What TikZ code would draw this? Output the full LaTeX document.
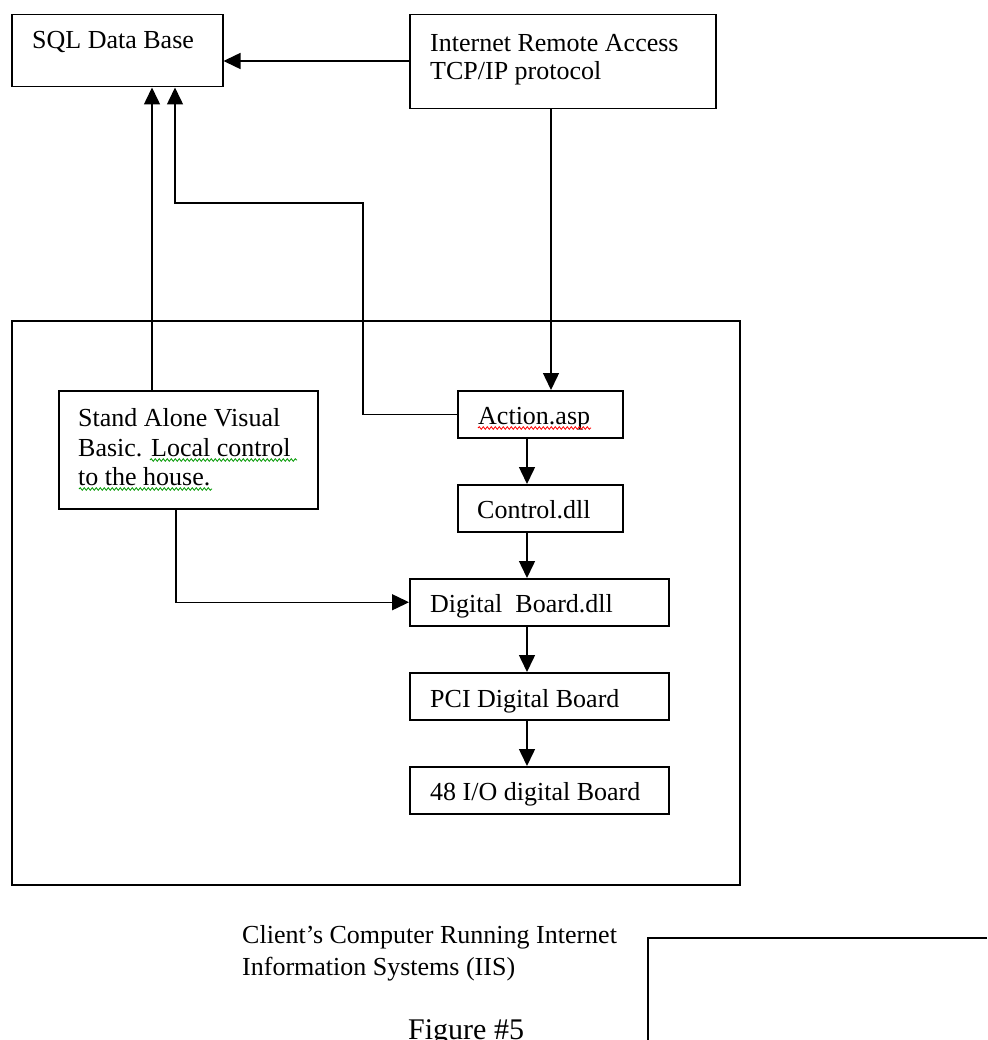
\documentclass[tikz,border=0pt]{standalone}
\usepackage{fontspec}
\setmainfont{Liberation Serif}
\usetikzlibrary{arrows.meta,decorations.pathmorphing}
\begin{document}
\begin{tikzpicture}[x=1pt,y=-1pt,
  box/.style={draw, line width=1.5pt, rectangle, inner sep=0pt, anchor=north west},
  txt/.style={inner sep=0pt, anchor=base west, font=\fontsize{26}{30}\selectfont},
  arr/.style={line width=1.5pt, -{Triangle[length=17pt,width=16pt]}},
  conn/.style={line width=1.5pt},
  wavy/.style={line width=0.8pt, decorate, decoration={snake, amplitude=1.3pt, segment length=4pt}}]
\clip (0,0) rectangle (987,1040);
\fill[white] (0,0) rectangle (987,1040);
% boxes
\node[box, minimum width=211pt, minimum height=72pt] (sql) at (11,14) {};
\node[box, minimum width=306pt, minimum height=94pt] (net) at (409,14) {};
\node[box, minimum width=728pt, minimum height=564pt] (iis) at (11,320) {};
\node[box, minimum width=259pt, minimum height=118pt] (stand) at (58,390) {};
\node[box, minimum width=165pt, minimum height=47pt] (act) at (457,390) {};
\node[box, minimum width=165pt, minimum height=47pt] (ctl) at (457,484) {};
\node[box, minimum width=259pt, minimum height=47pt] (dig) at (409,578) {};
\node[box, minimum width=259pt, minimum height=47pt] (pci) at (409,672) {};
\node[box, minimum width=259pt, minimum height=47pt] (io) at (409,766) {};
% texts
\node[txt] (sqlt) at (32,49) {SQL Data Base};
\node[txt] (nett1) at (430,52) {Internet Remote Access};
\node[txt] (nett2) at (430,80) {TCP/IP protocol};
\node[txt] (st1) at (78,426) {Stand Alone Visual};
\node[txt] (st2) at (78,456) {Basic. Local control};
\node[txt] (st3) at (78,485) {to the house.};
\node[txt] (actt) at (478,424) {Action.asp};
\node[txt] (ctlt) at (477,518) {Control.dll};
\node[txt] (digt) at (430,612) {Digital\ \ Board.dll};
\node[txt] (pcit) at (430,707) {PCI Digital Board};
\node[txt] (iot) at (430,800) {48 I/O digital Board};
\node[txt] (cl1) at (242,943) {Client’s Computer Running Internet};
\node[txt] (cl2) at (242,975) {Information Systems (IIS)};
\node[txt, font=\fontsize{30}{34}\selectfont] (fig) at (408,1039) {Figure \#5};
% spell-check underlines
\draw[wavy, red] (478,428) -- (591,428);
\draw[wavy, green!60!black] (150,460) -- (297,460);
\draw[wavy, green!60!black] (79,489) -- (212,489);
% partial box at bottom right
\coordinate (pb1) at (987,938);
\coordinate (pb2) at (648,938);
\coordinate (pb3) at (648,1040);
\draw[conn] (pb1) -- (pb2) -- (pb3);
% helper coordinates
\coordinate (x152) at (152,0);
\coordinate (x175) at (175,0);
\coordinate (x176) at (176,0);
\coordinate (x527) at (527,0);
\coordinate (x551) at (551,0);
\coordinate (k1) at (363,203);
\coordinate (k2) at (175,203);
\coordinate (y61) at (0,61);
% connectors
\draw[arr] (net.west |- y61) -- (sql.east |- y61);
\draw[arr] (stand.north -| x152) -- (sql.south -| x152);
\draw[arr] (act.west) -| (k1) -- (k2) -- (sql.south -| x175);
\draw[arr] (net.south -| x551) -- (act.north -| x551);
\draw[arr] (act.south -| x527) -- (ctl.north -| x527);
\draw[arr] (ctl.south -| x527) -- (dig.north -| x527);
\draw[arr] (dig.south -| x527) -- (pci.north -| x527);
\draw[arr] (pci.south -| x527) -- (io.north -| x527);
\draw[arr] (stand.south -| x176) |- (dig.west);
\end{tikzpicture}
\end{document}
